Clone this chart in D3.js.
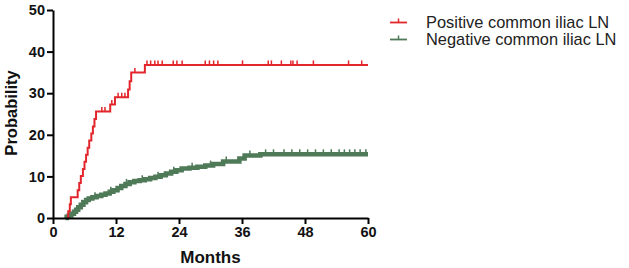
<!DOCTYPE html>
<html>
<head>
<meta charset="utf-8">
<script src="https://cdn.jsdelivr.net/npm/d3@7"></script>
<style>
  body { margin: 0; background: #fff; }
  svg { display: block; font-family: Arial, "Liberation Sans", sans-serif; }
</style>
</head>
<body>
<div id="chart"></div>
<script>
// cumulative probability (%) after each step: [month, value]
const positiveSteps = [
  [2.8, 0], [2.9, 1.6], [3.2, 3.3], [3.4, 5.0], [4.7, 6.7], [5.0, 8.4], [5.3, 10.1],
  [5.7, 11.8], [6.0, 13.5], [6.3, 15.2], [6.6, 16.9], [6.9, 18.6], [7.3, 20.3],
  [7.6, 22.0], [7.9, 23.8], [8.2, 25.6], [10.9, 27.3], [11.8, 29.0], [14.3, 30.9],
  [14.6, 32.9], [14.9, 35.0], [17.5, 36.8]
];
const positiveCensored = [
  9.3, 9.9, 11.2, 12.4, 13.1, 13.7, 15.6, 17.9, 18.6, 19.4, 20.0, 20.8, 22.9, 23.6,
  24.6, 29.0, 29.8, 30.6, 31.4, 36.1, 41.0, 41.6, 43.5, 45.3, 45.7, 46.5, 49.6, 56.3, 58.8
];

const negativeSteps = [
  [2.4, 0], [2.6, 0.3], [3.0, 0.6], [3.5, 1.0], [4.0, 1.5], [4.4, 2.0], [4.8, 2.6],
  [5.3, 3.2], [5.8, 3.8], [6.3, 4.3], [6.8, 4.7], [7.5, 5.0], [8.3, 5.3], [9.2, 5.6],
  [10.0, 5.9], [10.8, 6.3], [11.5, 6.7], [12.3, 7.2], [13.0, 7.7], [13.8, 8.2],
  [14.6, 8.6], [15.5, 8.9], [16.5, 9.1], [17.5, 9.3], [18.5, 9.6], [19.5, 9.9],
  [20.5, 10.3], [21.5, 10.7], [22.5, 11.1], [23.5, 11.5], [24.5, 11.9], [26.0, 12.1],
  [27.5, 12.3], [29.0, 12.6], [30.5, 13.0], [32.4, 13.6], [35.5, 14.3], [36.5, 15.0],
  [39.5, 15.3]
];
const negativeCensored = [
  5.5, 8.0, 11.0, 14.0, 17.0, 20.0, 23.0, 26.5, 30.0, 33.0, 37.5, 40.5, 42.0, 44.0,
  45.5, 47.0, 48.5, 50.0, 51.5, 53.0, 54.5, 55.5, 56.5, 57.5, 58.5, 59.6
];

const xTicks = [0, 12, 24, 36, 48, 60];
const yTicks = [0, 10, 20, 30, 40, 50];
const seriesNames = ['Positive common iliac LN', 'Negative common iliac LN'];
const seriesColors = ['#e3262b', '#4f7a58'];

const W = 629, H = 268;
const plot = { left: 53, right: 368, top: 10, bottom: 218 };

const svg = d3.select('#chart').append('svg')
  .attr('width', W).attr('height', H);

const x = d3.scaleLinear().domain([0, 60]).range([plot.left, plot.right]);
const y = d3.scaleLinear().domain([0, 50]).range([plot.bottom, plot.top]);

const line = d3.line()
  .x(d => x(d[0]))
  .y(d => y(d[1]))
  .curve(d3.curveStepAfter);

function valueAt(steps, t) {
  let v = 0;
  steps.forEach(s => { if (s[0] <= t) v = s[1]; });
  return v;
}

function drawSeries(steps, censored, color, width, tickH) {
  const pts = steps.concat([[60, steps[steps.length - 1][1]]]);
  svg.append('path')
    .datum(pts)
    .attr('fill', 'none')
    .attr('stroke', color)
    .attr('stroke-width', width)
    .attr('d', line);

  svg.append('g').selectAll('line')
    .data(censored)
    .join('line')
    .attr('x1', d => x(d)).attr('x2', d => x(d))
    .attr('y1', d => y(valueAt(steps, d)))
    .attr('y2', d => y(valueAt(steps, d)) - tickH)
    .attr('stroke', color)
    .attr('stroke-width', 1.5);
}

drawSeries(negativeSteps, negativeCensored, seriesColors[1], 4.5, 5);
drawSeries(positiveSteps, positiveCensored, seriesColors[0], 2, 4.5);

// axes on top of the curves
const xAxis = svg.append('g')
  .attr('transform', `translate(0,${plot.bottom})`)
  .call(d3.axisBottom(x).tickValues(xTicks).tickSize(6).tickPadding(3).tickSizeOuter(0));
const yAxis = svg.append('g')
  .attr('transform', `translate(${plot.left},0)`)
  .call(d3.axisLeft(y).tickValues(yTicks).tickSize(6).tickPadding(2).tickSizeOuter(0));

[xAxis, yAxis].forEach(g => {
  g.select('.domain').attr('stroke', '#000').attr('stroke-width', 2);
  g.selectAll('.tick line').attr('stroke', '#000').attr('stroke-width', 2);
  g.selectAll('.tick text')
    .attr('fill', '#111')
    .style('font-size', '14.5px')
    .style('font-weight', 'bold');
});

svg.append('text')
  .attr('x', (plot.left + plot.right) / 2)
  .attr('y', 263)
  .attr('text-anchor', 'middle')
  .style('font-size', '17px').style('font-weight', 'bold').attr('fill', '#111')
  .text('Months');

svg.append('text')
  .attr('transform', 'translate(17,113) rotate(-90)')
  .attr('text-anchor', 'middle')
  .style('font-size', '16.5px').style('font-weight', 'bold').attr('fill', '#111')
  .text('Probability');

// legend
const legend = svg.append('g');
seriesNames.forEach((name, i) => {
  const ly = 22.5 + i * 17;
  legend.append('line')
    .attr('x1', 390).attr('x2', 407).attr('y1', ly).attr('y2', ly)
    .attr('stroke', seriesColors[i]).attr('stroke-width', 1.8);
  legend.append('line')
    .attr('x1', 398.5).attr('x2', 398.5).attr('y1', ly).attr('y2', ly - 4)
    .attr('stroke', seriesColors[i]).attr('stroke-width', 1.5);
  legend.append('text')
    .attr('x', 426).attr('y', ly + 5.5)
    .style('font-size', '16.4px').attr('fill', '#222')
    .text(name);
});
</script>
</body>
</html>
